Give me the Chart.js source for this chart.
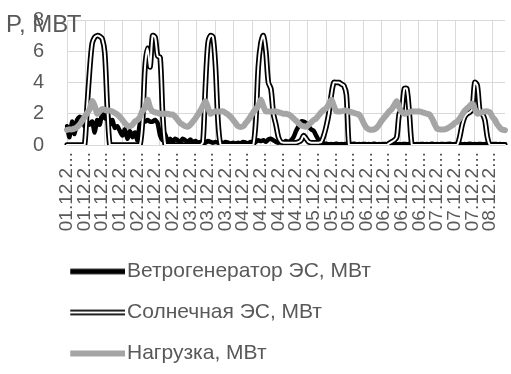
<!DOCTYPE html>
<html>
<head>
<meta charset="utf-8">
<title>P, МВт</title>
<script src="https://cdn.jsdelivr.net/npm/chart.js@4.4.1/dist/chart.umd.min.js"></script>
<style>
  html, body { margin: 0; padding: 0; background: #fff; }
  canvas { display: block; }
</style>
</head>
<body>
<canvas id="chart" width="511" height="374"></canvas>
<script>
// days on the x axis and how many readings fall on each
var dayNames = ['01.12.2022', '02.12.2022', '03.12.2022', '04.12.2022',
                '05.12.2022', '06.12.2022', '07.12.2022', '08.12.2022'];
var dayPointCounts = [28, 21, 21, 28, 21, 28, 21, 7];

var seriesNames = ['Ветрогенератор ЭС, МВт', 'Солнечная ЭС, МВт', 'Нагрузка, МВт'];

var wind = [
  1.2, 0.5, 1.5, 0.7, 1.6, 1.8, 1.7, 1.2, 1.5, 1.3,
  1.5, 0.8, 1.6, 1.3, 2.0, 1.7, 2.1, 1.3, 1.6, 1.1,
  1.2, 0.9, 0.6, 1.0, 0.4, 0.9, 0.5, 0.8, 0.3, 1.4,
  1.5, 1.5, 1.6, 1.5, 1.5, 1.6, 1.4, 0.6, 0.3, 0.7,
  0.2, 0.4, 0.2, 0.4, 0.3, 0.2, 0.4, 0.3, 0.2, 0.35,
  0.2, 0.25, 0.15, 0.2, 0.2, 0.15, 0.25, 0.2, 0.15, 0.2,
  0.15, 0.2, 0.1, 0.2, 0.15, 0.1, 0.15, 0.1, 0.15, 0.1,
  0.2, 0.15, 0.1, 0.2, 0.15, 0.2, 0.3, 0.25, 0.3, 0.2,
  0.35, 0.4, 0.3, 0.2, 0.15, 0.2, 0.15, 0.25, 0.2, 0.3,
  0.5, 0.9, 1.2, 1.5, 1.5, 1.4, 1.2, 1.0, 0.9, 0.6,
  0.3, 0.15, 0.1, 0.08, 0.05, 0.06, 0.05, 0.08, 0.05, 0.06,
  0.05, 0.07, 0.05, 0.06, 0.08, 0.05, 0.06, 0.05, 0.07, 0.05,
  0.06, 0.05, 0.08, 0.05, 0.06, 0.05, 0.07, 0.05, 0.06, 0.05,
  0.08, 0.05, 0.06, 0.05, 0.07, 0.05, 0.06, 0.08, 0.05, 0.06,
  0.05, 0.07, 0.05, 0.06, 0.05, 0.08, 0.05, 0.06, 0.05, 0.07,
  0.05, 0.06, 0.08, 0.05, 0.06, 0.05, 0.07, 0.05, 0.06, 0.05,
  0.08, 0.05, 0.06, 0.05, 0.07, 0.05, 0.06, 0.05, 0.06, 0.05,
  0.07, 0.05, 0.06, 0.05, 0.05
];

var solar = [
  0, 0, 0, 0, 0, 0, 0, 0,
  2.5, 4.8, 6.5, 6.9, 7.0, 6.95, 6.8, 5.9, 2.5, 0,
  0, 0, 0, 0, 0, 0, 0, 0, 0, 0, 0, 0,
  1.5, 5.0, 6.2, 5.0, 7.0, 6.9, 5.7, 5.6, 2.0,
  0, 0, 0, 0, 0, 0, 0, 0, 0, 0, 0, 0, 0, 0, 0,
  0.2, 3.8, 6.5, 7.0, 6.9, 5.0, 1.5, 0,
  0, 0, 0, 0, 0, 0, 0, 0, 0, 0, 0, 0, 0,
  1.5, 5.0, 6.5, 7.0, 6.0, 4.0, 3.6, 2.0, 1.3, 0.5, 0.2,
  0.15, 0.15, 0.15, 0.15, 0.15, 0.15, 0.2, 0.3, 0.6, 0.4, 0.2, 0.15, 0.15, 0.15, 0.15,
  0.2, 0.6, 1.2, 2.0, 3.2, 4.0, 4.0, 4.0, 3.9, 3.8, 3.2, 0,
  0, 0, 0, 0, 0, 0, 0, 0, 0, 0, 0, 0, 0, 0, 0,
  0.1, 0.2, 0.3, 0.5, 2.0, 2.2, 3.6, 3.6, 2.0, 0,
  0, 0, 0, 0, 0, 0, 0, 0, 0, 0, 0, 0, 0, 0, 0, 0, 0, 0,
  0.5, 1.3, 1.8, 2.0, 2.1, 2.3, 4.0, 3.8, 2.2, 2.0, 1.6, 0.5, 0,
  0, 0, 0, 0, 0, 0
];

var load = [
  0.97, 1.0, 1.0, 1.05, 1.15, 1.3, 1.55, 1.8, 2.05, 2.3,
  2.8, 2.5, 2.0, 2.15, 2.3, 2.25, 2.2, 2.2, 2.15, 2.05,
  1.95, 1.8, 1.6, 1.4, 1.25, 1.2, 1.3, 1.5, 1.6, 1.8,
  2.2, 2.35, 2.9, 2.4, 2.15, 2.1, 2.05, 2.0, 2.0, 2.0,
  2.0, 1.95, 1.95, 1.8, 1.6, 1.4, 1.3, 1.2, 1.17, 1.3,
  1.5, 1.7, 1.95, 2.2, 2.5, 2.8, 2.4, 2.0, 2.1, 2.15,
  2.15, 2.15, 2.15, 2.05, 1.95, 1.8, 1.6, 1.4, 1.2, 1.15,
  1.2, 1.4, 1.6, 1.85, 2.1, 2.3, 2.5, 2.9, 2.5, 2.15,
  2.15, 2.15, 2.15, 2.15, 2.1, 2.05, 2.0, 2.0, 1.95, 1.85,
  1.7, 1.55, 1.4, 1.25, 1.2, 1.17, 1.3, 1.45, 1.6, 1.7,
  1.9, 2.1, 2.25, 2.35, 2.6, 2.9, 2.5, 2.15, 2.15, 2.15,
  2.2, 2.2, 2.15, 2.1, 2.05, 2.0, 1.95, 1.7, 1.35, 1.1,
  1.0, 0.97, 1.0, 1.1, 1.3, 1.55, 1.75, 1.95, 2.15, 2.3,
  2.55, 2.8, 2.4, 2.1, 2.0, 2.05, 2.1, 2.15, 2.15, 2.15,
  2.15, 2.1, 2.05, 2.0, 1.95, 1.7, 1.35, 1.05, 1.0, 1.0,
  1.0, 1.05, 1.15, 1.25, 1.4, 1.5, 1.7, 1.95, 2.2, 2.35,
  2.5, 2.65, 2.3, 2.0, 2.05, 2.1, 2.15, 2.15, 2.1, 1.8,
  1.6, 1.3, 1.1, 0.97, 0.95
];

var yTicks = [0, 2, 4, 6, 8];

// one category label per reading
var dates = [];
dayNames.forEach(function (d, i) {
  for (var k = 0; k < dayPointCounts[i]; k++) dates.push(d);
});

var textColor = '#595959';
var gridColor = '#D9D9D9';
var loadColor = '#A5A5A5';
var fontFamily = '"Liberation Sans", Arial, sans-serif';

// little line samples for the legend
function sample(draw) {
  var c = document.createElement('canvas');
  c.width = 114;
  c.height = 12;
  var g = c.getContext('2d');
  g.lineCap = 'butt';
  draw(g);
  return c;
}
function hline(g, color, width) {
  g.strokeStyle = color;
  g.lineWidth = width;
  g.beginPath();
  g.moveTo(59, 6);
  g.lineTo(114, 6);
  g.stroke();
}
var windSample = sample(function (g) { hline(g, '#000', 5.5); });
var solarSample = sample(function (g) { hline(g, '#000', 5.5); hline(g, '#fff', 2); });
var loadSample = sample(function (g) { hline(g, loadColor, 6); });

var axisTitle = {
  id: 'axisTitle',
  afterDraw: function (chart) {
    var ctx = chart.ctx;
    ctx.save();
    ctx.font = '24px ' + fontFamily;
    ctx.fillStyle = textColor;
    ctx.textBaseline = 'middle';
    ctx.textAlign = 'left';
    ctx.fillText('P, МВТ', 6, 25);
    ctx.restore();
  }
};

// axis labels may hang outside the plot, like in the original
function noOverhang(scale) {
  scale.paddingTop = 0;
  scale.paddingBottom = 0;
  scale.paddingLeft = 0;
  scale.paddingRight = 0;
}

var lineStyle = {
  pointRadius: 0,
  pointHoverRadius: 0,
  fill: false,
  borderJoinStyle: 'round',
  borderCapStyle: 'round',
  tension: 0.3,
  xAxisID: 'x',
  yAxisID: 'y'
};

new Chart(document.getElementById('chart'), {
  type: 'line',
  data: {
    labels: dates,
    datasets: [
      Object.assign({}, lineStyle, { label: seriesNames[2], data: load, borderColor: loadColor, borderWidth: 6 }),
      Object.assign({}, lineStyle, { label: seriesNames[1] + ' ', data: solar, borderColor: '#fff', borderWidth: 2 }),
      Object.assign({}, lineStyle, { label: seriesNames[1], data: solar, borderColor: '#000', borderWidth: 5.5 }),
      Object.assign({}, lineStyle, { label: seriesNames[0], data: wind, borderColor: '#000', borderWidth: 4.5, tension: 0.2 })
    ]
  },
  options: {
    responsive: false,
    animation: false,
    devicePixelRatio: 1,
    layout: { padding: { top: 20, right: 6, bottom: 0, left: 0 } },
    plugins: {
      tooltip: { enabled: false },
      title: { display: false },
      legend: {
        position: 'bottom',
        align: 'start',
        labels: {
          usePointStyle: true,
          pointStyleWidth: 96.5,
          padding: 20,
          color: textColor,
          font: { family: fontFamily, size: 21 },
          generateLabels: function () {
            return [
              { text: seriesNames[0], pointStyle: windSample, fillStyle: '#000', strokeStyle: '#000', lineWidth: 0, fontColor: textColor, datasetIndex: 3 },
              { text: seriesNames[1], pointStyle: solarSample, fillStyle: '#000', strokeStyle: '#000', lineWidth: 0, fontColor: textColor, datasetIndex: 2 },
              { text: seriesNames[2], pointStyle: loadSample, fillStyle: loadColor, strokeStyle: loadColor, lineWidth: 0, fontColor: textColor, datasetIndex: 0 }
            ];
          }
        }
      }
    },
    scales: {
      x: {
        type: 'category',
        position: 'bottom',
        grid: { display: false, drawTicks: false },
        border: { display: false },
        afterFit: function (scale) { scale.height = 96; noOverhang(scale); },
        ticks: {
          autoSkip: false,
          minRotation: 90,
          maxRotation: 90,
          padding: 7,
          color: textColor,
          font: { family: fontFamily, size: 19 },
          callback: function (value, index) {
            return index % 7 === 0 ? dates[index].slice(0, 7) + '...' : '';
          }
        }
      },
      xg: {
        type: 'linear',
        position: 'top',
        min: 0,
        max: 23.65,
        afterFit: function (scale) { scale.height = 0; noOverhang(scale); },
        grid: { color: gridColor, lineWidth: 1, drawTicks: false },
        border: { display: false },
        ticks: { display: false, stepSize: 1, includeBounds: false }
      },
      y: {
        min: yTicks[0],
        max: yTicks[yTicks.length - 1],
        afterFit: function (scale) { scale.width = 67; noOverhang(scale); },
        afterBuildTicks: function (scale) {
          scale.ticks = yTicks.map(function (v) { return { value: v }; });
        },
        grid: { color: gridColor, lineWidth: 1, drawTicks: false },
        border: { display: false },
        ticks: {
          padding: 23,
          color: textColor,
          font: { family: fontFamily, size: 20 }
        }
      }
    }
  },
  plugins: [axisTitle]
});
</script>
</body>
</html>
